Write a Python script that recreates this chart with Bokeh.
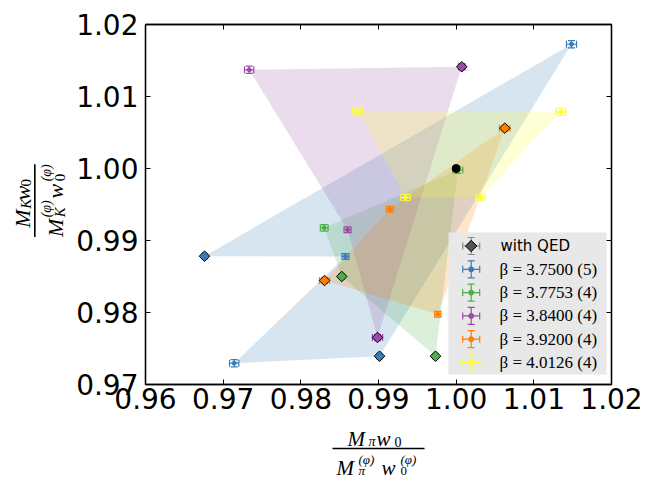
import numpy as np
from bokeh.plotting import figure
from bokeh.layouts import row, column
from bokeh.models import (Range1d, FixedTicker, PrintfTickFormatter, LinearAxis,
                          CustomJSTickFormatter, ColumnDataSource)
from bokeh.core.properties import value
from bokeh.embed import file_html
from bokeh.resources import INLINE

# ---------------- data ----------------
beta_labels = ["3.7500", "3.7753", "3.8400", "3.9200", "4.0126"]
beta_counts = [5, 4, 4, 4, 4]
beta_colors = ["#377eb8", "#4daf4a", "#984ea3", "#ff7f00", "#ffff33"]

b3750_x = [1.01485, 0.96760, 0.98575, 0.97142, 0.99013]
b3750_y = [1.01726, 0.98782, 0.98778, 0.97296, 0.97393]
b3750_xerr = [0.00065, 0.00030, 0.00045, 0.00060, 0.00030]
b3750_yerr = [0.00050, 0.00030, 0.00040, 0.00050, 0.00030]
b3750_qed = [False, True, False, False, True]

b3775_x = [0.98301, 1.00021, 0.99734, 0.98527]
b3775_y = [0.99176, 0.99978, 0.97393, 0.98500]
b3775_xerr = [0.00050, 0.00065, 0.00030, 0.00030]
b3775_yerr = [0.00045, 0.00045, 0.00030, 0.00030]
b3775_qed = [False, False, True, True]

b3840_x = [0.97335, 1.00072, 0.98987, 0.98601]
b3840_y = [1.01371, 1.01413, 0.97653, 0.99149]
b3840_xerr = [0.00060, 0.00040, 0.00065, 0.00045]
b3840_yerr = [0.00050, 0.00040, 0.00040, 0.00040]
b3840_qed = [False, True, True, False]

b3920_x = [0.99145, 1.00626, 0.99763, 0.98305]
b3920_y = [0.99435, 1.00560, 0.97976, 0.98444]
b3920_xerr = [0.00045, 0.00068, 0.00040, 0.00065]
b3920_yerr = [0.00040, 0.00040, 0.00040, 0.00040]
b3920_qed = [False, True, False, True]

b4013_x = [0.98730, 1.01347, 1.00313, 0.99348]
b4013_y = [1.00801, 1.00787, 0.99601, 0.99597]
b4013_xerr = [0.00065, 0.00065, 0.00060, 0.00060]
b4013_yerr = [0.00050, 0.00050, 0.00045, 0.00045]
b4013_qed = [False, False, False, False]

ref_x = [1.0]
ref_y = [1.0]

x_ticks = [0.96, 0.97, 0.98, 0.99, 1.00, 1.01, 1.02]
y_ticks = [0.97, 0.98, 0.99, 1.00, 1.01, 1.02]

series = [
    (b3750_x, b3750_y, b3750_xerr, b3750_yerr, b3750_qed),
    (b3775_x, b3775_y, b3775_xerr, b3775_yerr, b3775_qed),
    (b3840_x, b3840_y, b3840_xerr, b3840_yerr, b3840_qed),
    (b3920_x, b3920_y, b3920_xerr, b3920_yerr, b3920_qed),
    (b4013_x, b4013_y, b4013_xerr, b4013_yerr, b4013_qed),
]

# ---------------- layout sizes ----------------
W, H = 648, 481
FL, FR, FT, FB = 145, 611, 24, 384   # frame edges in page pixels
YLW = 70                             # width of the y-label strip
TOPH = 420                           # height of the top row
X0, X1, Y0, Y1 = x_ticks[0], x_ticks[-1], y_ticks[0], y_ticks[-1]

p = figure(width=W - YLW, height=TOPH, x_range=Range1d(X0, X1), y_range=Range1d(Y0, Y1),
           output_backend="svg", toolbar_location=None,
           min_border_left=FL - YLW, min_border_right=W - FR,
           min_border_top=FT, min_border_bottom=TOPH - FB)
p.xgrid.visible = False
p.ygrid.visible = False
p.outline_line_color = "black"
p.outline_line_width = 1.3

p.add_layout(LinearAxis(), "above")
p.add_layout(LinearAxis(), "right")

for ax in p.xaxis:
    ax.ticker = FixedTicker(ticks=x_ticks)
for ax in p.yaxis:
    ax.ticker = FixedTicker(ticks=y_ticks)
for ax in p.xaxis + p.yaxis:
    ax.major_tick_in = 5
    ax.major_tick_out = 0
    ax.minor_tick_line_color = None
    ax.axis_line_color = "black"
    ax.axis_line_width = 1.3
    ax.major_tick_line_color = "black"
    ax.major_tick_line_width = 1
    ax.major_label_text_font = "DejaVu Sans"
    ax.major_label_text_font_size = "28px"
    ax.major_label_text_color = "black"
    ax.formatter = PrintfTickFormatter(format="%.2f")
p.below[0].major_label_standoff = 3
p.left[0].major_label_standoff = 7
for ax in (p.above[0], p.right[0]):
    ax.formatter = CustomJSTickFormatter(code="return ''")
    ax.major_label_standoff = 0


def X(px):
    return X0 + (px - FL) / (FR - FL) * (X1 - X0)


def Y(py):
    return Y1 - (py - FT) / (FB - FT) * (Y1 - Y0)


# ---------------- polygons ----------------
for (xs, ys, xe, ye, q), c in zip(series, beta_colors):
    p.patch(xs, ys, fill_color=c, fill_alpha=0.2, line_color=None)


def errbars(xs, ys, xe, ye, color, lw=1.2, cap=7):
    xs = np.asarray(xs); ys = np.asarray(ys); xe = np.asarray(xe); ye = np.asarray(ye)
    src = ColumnDataSource(dict(x=xs, y=ys, xl=xs - xe, xr=xs + xe, yl=ys - ye, yh=ys + ye))
    p.segment(x0="xl", y0="y", x1="xr", y1="y", source=src, line_color=color, line_width=lw)
    p.segment(x0="x", y0="yl", x1="x", y1="yh", source=src, line_color=color, line_width=lw)
    for xc in ("xl", "xr"):
        p.scatter(x=xc, y="y", source=src, marker="dash", angle=np.pi / 2, size=cap,
                  line_color=color, line_width=lw)
    for yc in ("yl", "yh"):
        p.scatter(x="x", y=yc, source=src, marker="dash", size=cap,
                  line_color=color, line_width=lw)


# ---------------- points ----------------
for (xs, ys, xe, ye, q), c in zip(series, beta_colors):
    errbars(xs, ys, xe, ye, c)
    qx = [x for x, f in zip(xs, q) if f]
    qy = [y for y, f in zip(ys, q) if f]
    nx = [x for x, f in zip(xs, q) if not f]
    ny = [y for y, f in zip(ys, q) if not f]
    if nx:
        p.scatter(nx, ny, marker="circle", size=4, fill_color=c, line_color=c)
    if qx:
        p.scatter(qx, qy, marker="square", angle=np.pi / 4, size=7.5,
                  fill_color=c, line_color="black", line_width=1)

p.scatter(ref_x, ref_y, marker="circle", size=8, fill_color="black", line_color="black")

# ---------------- legend (drawn manually) ----------------
LL, LR, LT, LB = 448, 606, 232, 374
p.quad(left=[X(LL)], right=[X(LR)], top=[Y(LT)], bottom=[Y(LB)],
       fill_color="#e8e8e8", fill_alpha=1.0, line_color=None)
row0, pitch = 245.5, 23.3
icx = 470.7
legend_texts = ["with QED"] + ["β = %s (%d)" % (b, n) for b, n in zip(beta_labels, beta_counts)]
legend_colors = ["#8a8a8a"] + beta_colors
for i, (t, c) in enumerate(zip(legend_texts, legend_colors)):
    cy = row0 + i * pitch
    errbars([X(icx)], [Y(cy)], [X(icx + 8.5) - X(icx)], [Y(cy - 8.5) - Y(cy)], c)
    if i == 0:
        p.scatter([X(icx)], [Y(cy)], marker="square", angle=np.pi / 4, size=8,
                  fill_color="#555555", line_color="black", line_width=1)
        p.text([X(500)], [Y(cy)], text=[t], text_font=value("DejaVu Sans"),
               text_font_size="15px", text_baseline="middle", text_color="black")
    else:
        p.scatter([X(icx)], [Y(cy)], marker="circle", size=5, fill_color=c, line_color=c)
        p.text([X(499)], [Y(cy)], text=[t], text_font=value("Liberation Serif"),
               text_font_size="17px", text_baseline="middle", text_color="black")


# ---------------- axis-label strips (fractions as real text) ----------------
def strip(w, h):
    f = figure(width=w, height=h, x_range=Range1d(0, w), y_range=Range1d(h, 0),
               output_backend="svg", toolbar_location=None, title=None,
               x_axis_type=None, y_axis_type=None, min_border=0)
    f.outline_line_color = None
    return f


fx = strip(W, H - TOPH)
fy = strip(YLW, TOPH)


def lab(f, text, x, y, size, italic=True, angle=0.0):
    f.text([x], [y], text=[text], text_font=value("Liberation Serif"),
           text_font_style="italic" if italic else "normal",
           text_font_size="%dpx" % size, text_color="black",
           text_align="left", text_baseline="alphabetic", angle=angle)


# x label: M_pi w_0 / (M_pi^(phi) w_0^(phi)); page y minus TOPH
oy = TOPH
lab(fx, "M", 347, 438 - oy, 21)
lab(fx, "π", 368, 441 - oy, 14)
lab(fx, "w", 376, 438 - oy, 21)
lab(fx, "0", 394, 441 - oy, 14, italic=False)
fx.quad(left=[332], right=[424], top=[447.2 - oy], bottom=[448.8 - oy],
        fill_color="black", line_color=None)
lab(fx, "M", 336, 467 - oy, 21)
lab(fx, "π", 358, 470 - oy, 13)
lab(fx, "(φ)", 358, 459 - oy, 13)
lab(fx, "w", 381, 467 - oy, 21)
lab(fx, "0", 400, 470 - oy, 13, italic=False)
lab(fx, "(φ)", 400, 459 - oy, 13)

# y label (rotated, reads bottom to top)
A = np.pi / 2
lab(fy, "M", 22, 237, 22, angle=A)
lab(fy, "K", 25, 215, 15, angle=A)
lab(fy, "w", 22, 205, 22, angle=A)
lab(fy, "0", 25, 189, 15, italic=False, angle=A)
fy.quad(left=[33.5], right=[35.1], top=[163], bottom=[248],
        fill_color="black", line_color=None)
lab(fy, "M", 55, 248, 22, angle=A)
lab(fy, "K", 59, 225, 15, angle=A)
lab(fy, "(φ)", 46, 225, 14, angle=A)
lab(fy, "w", 55, 203, 22, angle=A)
lab(fy, "0", 59, 183, 15, italic=False, angle=A)
lab(fy, "(φ)", 46, 183, 14, angle=A)

layout = column(row(fy, p, spacing=0), fx, spacing=0)
open("out.html", "w").write(file_html(layout, INLINE))
